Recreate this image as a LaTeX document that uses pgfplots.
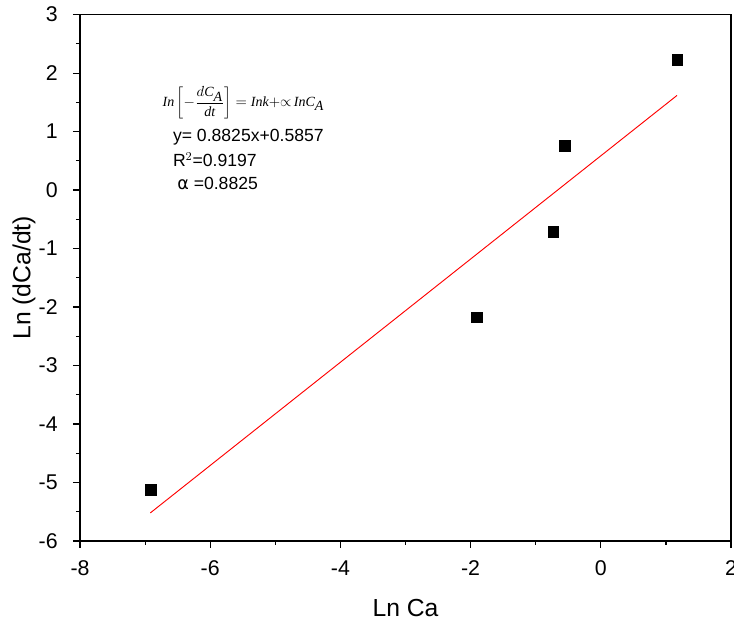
\documentclass[border=0pt]{standalone}
\usepackage{pgfplots}
\pgfplotsset{compat=1.18}
\usepackage{fontspec}
\setmainfont{Liberation Sans}
\newfontfamily\dejavu{DejaVu Sans}
\newfontfamily\serifit{Liberation Serif}
\newcommand{\si}[1]{\mbox{\serifit\itshape #1}}
\usetikzlibrary{calc}
\begin{document}
\begin{tikzpicture}
\begin{axis}[
  name=ax,
  at={(0,0)}, anchor=south west,
  scale only axis,
  width=488.25pt, height=394.7pt,
  xmin=-8, xmax=2, ymin=-6, ymax=3,
  xtick={-8,-6,-4,-2,0,2},
  ytick={-6,-5,-4,-3,-2,-1,0,1,2,3},
  minor xtick={-7,-5,-3,-1,1},
  minor ytick={-5.5,-4.5,-3.5,-2.5,-1.5,-0.5,0.5,1.5,2.5},
  tick pos=left,
  tick align=outside,
  major tick length=5.25pt,
  minor tick length=3pt,
  axis line style={line width=1pt},
  every tick/.style={black, line width=0.9pt},
  /pgf/number format/assume math mode=true,
  tick label style={font=\fontsize{16}{18}\selectfont},
  xticklabel style={yshift=-6pt},
  yticklabel style={xshift=-8pt},
  xlabel={Ln Ca},
  ylabel={Ln (dCa/dt)},
  label style={font=\fontsize{18.5}{22}\selectfont},
  xlabel style={at={(axis description cs:0.5,0)}, anchor=base, yshift=-56.7pt},
  ylabel style={at={(axis description cs:-0.086,0.5)}, anchor=center},
  clip=false,
]
\addplot[only marks, mark=square*, mark size=4pt, mark options={fill=black, draw=black, line width=0.2pt}]
  coordinates {(-6.92,-5.12) (-1.905,-2.17) (-0.73,-0.71) (-0.556,0.76) (1.17,2.23)};
\addplot[red, line width=0.7pt] coordinates {(-6.92,-5.5212) (1.17,1.6182)};
\node[anchor=center, font=\fontsize{10.5}{12}\selectfont] at (axis cs:-5.49,1.49)
  {$\displaystyle \si{In}\left[-\frac{d\si{C}_{\si{A}}}{\si{dt}}\right] = \si{Ink}{+}{\propto}\,\si{InC}_{\si{A}}$};
\node[anchor=west, font=\fontsize{13.2}{15}\selectfont, inner sep=0pt] at (axis cs:-6.575,0.91) {y= 0.8825x+0.5857};
\node[anchor=west, font=\fontsize{13.2}{15}\selectfont, inner sep=0pt] at (axis cs:-6.575,0.515) {R$^{2}$=0.9197};
\node[anchor=west, font=\fontsize{13.2}{15}\selectfont, inner sep=0pt] at (axis cs:-6.51,0.12) {{\dejavu α} =0.8825};
\end{axis}
\pgfresetboundingbox
\useasboundingbox ($(ax.south west)+(-60pt,-63.75pt)$) rectangle ($(ax.north east)+(2.25pt,11pt)$);
\end{tikzpicture}
\end{document}
